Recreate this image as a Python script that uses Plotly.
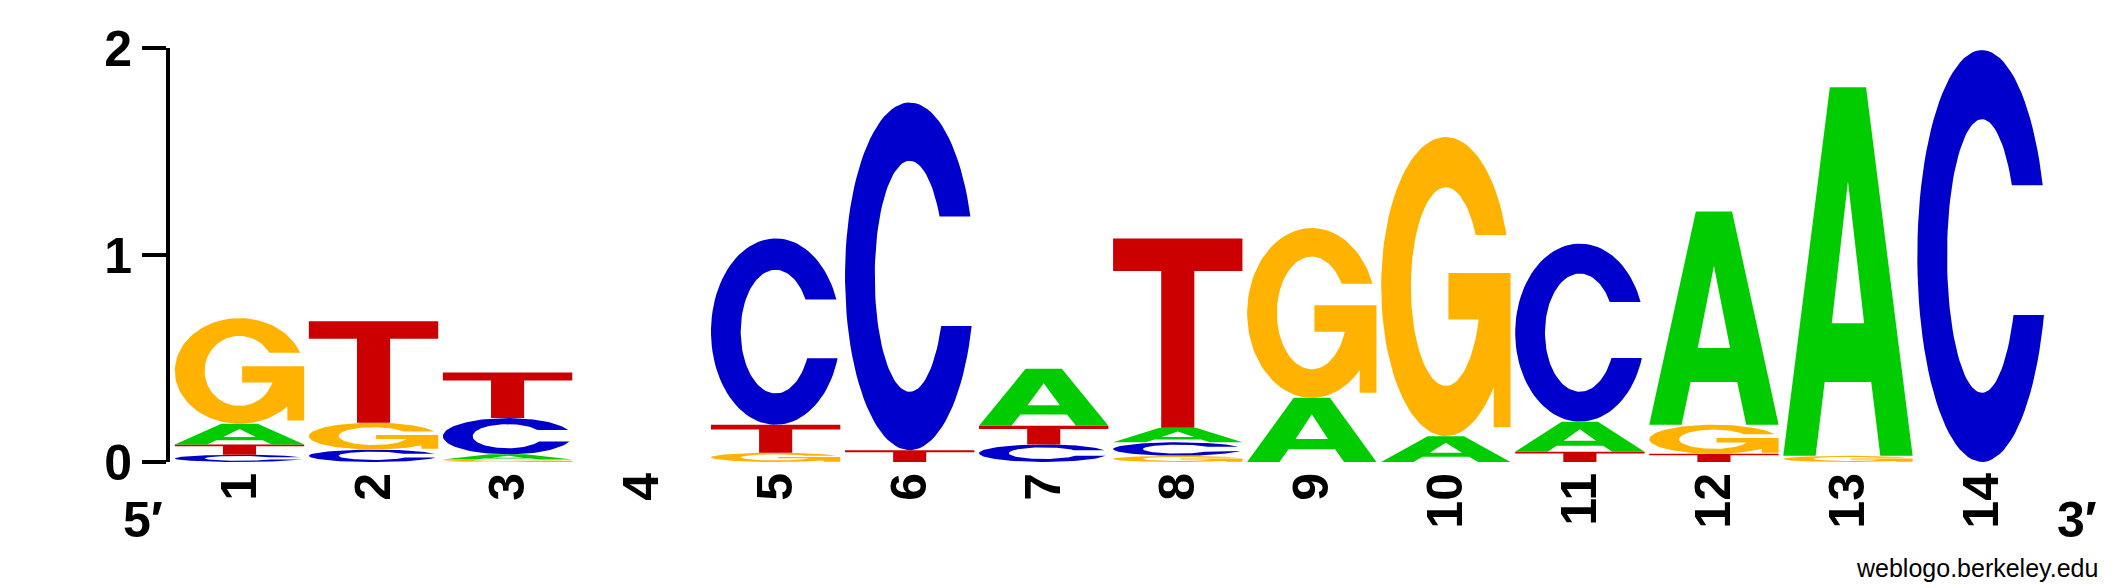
import math
import plotly.graph_objects as go

# ---------------- data (bits per base at each position) ----------------
positions = [1, 2, 3, 4, 5, 6, 7, 8, 9, 10, 11, 12, 13, 14]
tick_labels = ["1", "2", "3", "4", "5", "6", "7", "8", "9", "10", "11", "12", "13", "14"]
bits_A = [0.10, 0.00, 0.025, 0.0, 0.00, 0.00, 0.275, 0.070, 0.31, 0.125, 0.145, 1.03, 1.78, 0.00]
bits_C = [0.035, 0.06, 0.175, 0.0, 0.90, 1.68, 0.085, 0.065, 0.00, 0.00, 0.86, 0.00, 0.00, 1.99]
bits_G = [0.51, 0.13, 0.012, 0.0, 0.045, 0.00, 0.00, 0.030, 0.82, 1.445, 0.00, 0.14, 0.03, 0.00]
bits_T = [0.05, 0.49, 0.22, 0.0, 0.135, 0.057, 0.09, 0.915, 0.00, 0.00, 0.05, 0.04, 0.00, 0.00]

colors = {"A": "#00cc00", "C": "#0000cc", "G": "#ffb300", "T": "#cc0000"}
LETTER_W = 0.965


# ---------------- glyph outlines in a unit box ----------------
def arc(cx, cy, rx, ry, t0, t1, n=90):
    return [(cx + rx * math.cos(t0 + (t1 - t0) * i / n),
             cy + ry * math.sin(t0 + (t1 - t0) * i / n)) for i in range(n + 1)]


def glyph(letter):
    """Return list of (points, is_hole) polygons in unit coordinates."""
    if letter == "T":
        return [([(0, 1), (1, 1), (1, 0.828), (0.628, 0.828), (0.628, 0),
                  (0.372, 0), (0.372, 0.828), (0, 0.828)], False)]
    if letter == "A":
        outer = [(0, 0), (0.36, 1), (0.64, 1), (1, 0), (0.75, 0), (0.68, 0.2),
                 (0.32, 0.2), (0.25, 0)]
        hole = [(0.375, 0.36), (0.5, 0.745), (0.625, 0.36)]
        return [(outer, False), (hole, True)]
    rxo, ryo = 0.5, 0.5
    rxi, ryi = 0.27, 0.332
    if letter == "C":
        yt, yb = 0.672, 0.357
        t1 = math.asin((yt - 0.5) / ryo)
        t2 = 2 * math.pi - math.asin((0.5 - yb) / ryo)
        p1 = math.asin((yt - 0.5) / ryi)
        p2 = 2 * math.pi - math.asin((0.5 - yb) / ryi)
        pts = arc(0.5, 0.5, rxo, ryo, t1, t2) + arc(0.5, 0.5, rxi, ryi, p2, p1)
        return [(pts, False)]
    if letter == "G":
        yt = 0.672
        t1 = math.asin((yt - 0.5) / ryo)
        tb = 2 * math.pi - math.acos(0.74)
        p1 = math.asin((yt - 0.5) / ryi)
        pb = -math.asin((0.5 - 0.39) / ryi)
        pts = arc(0.5, 0.5, rxo, ryo, t1, tb)
        pts += [(0.87, 0.03), (1.0, 0.03), (1.0, 0.545), (0.52, 0.545), (0.52, 0.39)]
        pts += arc(0.5, 0.5, rxi, ryi, pb, p1 - 2 * math.pi)
        return [(pts, False)]
    return []


fig = go.Figure()

series = {"A": bits_A, "C": bits_C, "G": bits_G, "T": bits_T}
for i, pos in enumerate(positions):
    stack = sorted(((series[k][i], k) for k in series if series[k][i] > 0))
    base = 0.0
    for h, letter in stack:
        for pts, is_hole in glyph(letter):
            xs = [pos - LETTER_W / 2 + gx * LETTER_W for gx, gy in pts]
            ys = [base + gy * h for gx, gy in pts]
            xs.append(xs[0])
            ys.append(ys[0])
            fc = "white" if is_hole else colors[letter]
            fig.add_trace(go.Scatter(x=xs, y=ys, mode="lines", fill="toself",
                                     fillcolor=fc, line=dict(width=0, color=fc),
                                     hoverinfo="skip", showlegend=False))
        base += h

tick_font = dict(family="Liberation Sans, Arial, sans-serif", size=50, color="black", weight="bold")

# the page body has an 8px margin, so the figure is offset to compensate
fig.update_layout(
    width=2109, height=580,
    margin=dict(l=162, r=57, t=32, b=126),
    plot_bgcolor="white", paper_bgcolor="white",
    showlegend=False,
    xaxis=dict(range=[0.4815, 14.582], tickvals=positions, ticktext=tick_labels,
               tickangle=-90, tickfont=tick_font, showline=False, showgrid=False,
               zeroline=False, ticks=""),
    yaxis=dict(range=[0, 2], tickvals=[0, 1, 2], ticktext=["0", "1", "2"],
               tickfont=tick_font, showline=True, linewidth=4, linecolor="black",
               ticks="outside", ticklen=24, tickwidth=4, tickcolor="black",
               showgrid=False, zeroline=False),
    annotations=[
        dict(text="5′", xref="paper", yref="paper", x=-0.0143, y=-0.14,
             xanchor="center", yanchor="middle", showarrow=False, font=tick_font),
        dict(text="3′", xref="paper", yref="paper", x=1.009, y=-0.14,
             xanchor="center", yanchor="middle", showarrow=False, font=tick_font),
        dict(text="weblogo.berkeley.edu", xref="paper", yref="paper", x=1.0212, y=-0.255,
             xanchor="right", yanchor="middle", showarrow=False,
             font=dict(family="Liberation Sans, Arial, sans-serif", size=25, color="black")),
    ],
)

fig.write_html("out.html")
